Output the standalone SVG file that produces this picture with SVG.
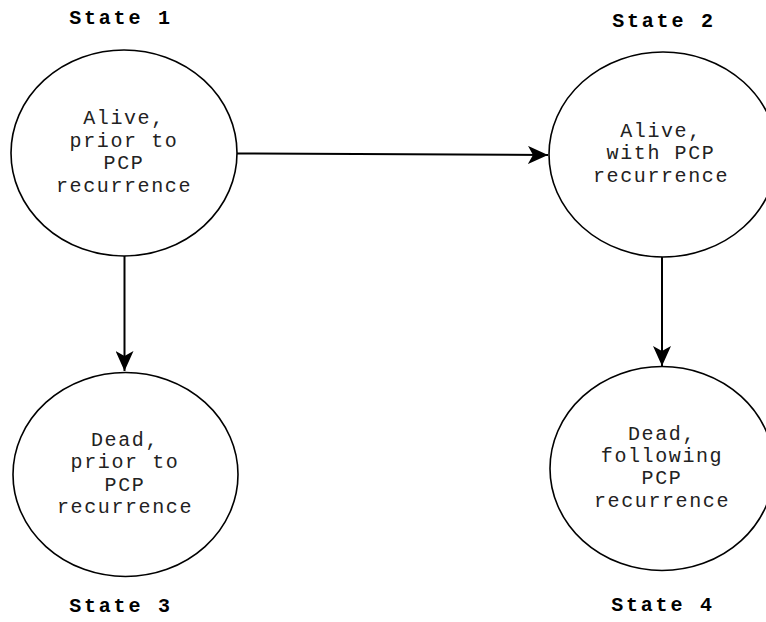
<svg xmlns="http://www.w3.org/2000/svg" width="766" height="622" viewBox="0 0 766 622">
<style>
.node ellipse{fill:#fff;stroke:#000;stroke-width:1.6}
.t{font-family:"Liberation Mono","Courier New",monospace;font-size:20px;fill:#222;text-anchor:middle;letter-spacing:1.6px}
.lbl{font-family:"Liberation Mono","Courier New",monospace;font-size:20px;font-weight:bold;fill:#000;text-anchor:middle;letter-spacing:2.8px}
.edge{stroke:#000;stroke-width:2;fill:none}
</style>
<defs>
<marker id="ah" viewBox="0 0 20 18" refX="20" refY="9" markerWidth="20" markerHeight="18" markerUnits="userSpaceOnUse" orient="auto">
<path d="M0,0 L20,9 L0,18 L5,9 Z" fill="#000"/>
</marker>
</defs>
<g id="connectors">
<path class="edge" d="M237,153.5 L548,155" marker-end="url(#ah)"/>
<path class="edge" d="M124.5,256 L124.5,371" marker-end="url(#ah)"/>
<path class="edge" d="M662,257 L662,366" marker-end="url(#ah)"/>
</g>
<g id="state1" class="node">
<text class="lbl" x="121" y="24">State 1</text>
<ellipse cx="124" cy="153" rx="113" ry="103"/>
<text class="t" x="124" y="124">Alive,</text>
<text class="t" x="124" y="146.5">prior to</text>
<text class="t" x="124" y="169">PCP</text>
<text class="t" x="124" y="191.5">recurrence</text>
</g>
<g id="state2" class="node">
<text class="lbl" x="664" y="27">State 2</text>
<ellipse cx="663" cy="154.5" rx="114" ry="102.5"/>
<text class="t" x="661" y="136.5">Alive,</text>
<text class="t" x="661" y="159">with PCP</text>
<text class="t" x="661" y="181.5">recurrence</text>
</g>
<g id="state3" class="node">
<ellipse cx="125.5" cy="474.5" rx="112.5" ry="102"/>
<text class="t" x="125" y="445.5">Dead,</text>
<text class="t" x="125" y="468">prior to</text>
<text class="t" x="125" y="490.5">PCP</text>
<text class="t" x="125" y="513">recurrence</text>
<text class="lbl" x="121" y="612">State 3</text>
</g>
<g id="state4" class="node">
<ellipse cx="662" cy="468.5" rx="112" ry="102"/>
<text class="t" x="662" y="440">Dead,</text>
<text class="t" x="662" y="462">following</text>
<text class="t" x="662" y="484">PCP</text>
<text class="t" x="662" y="507">recurrence</text>
<text class="lbl" x="663" y="611">State 4</text>
</g>
</svg>
